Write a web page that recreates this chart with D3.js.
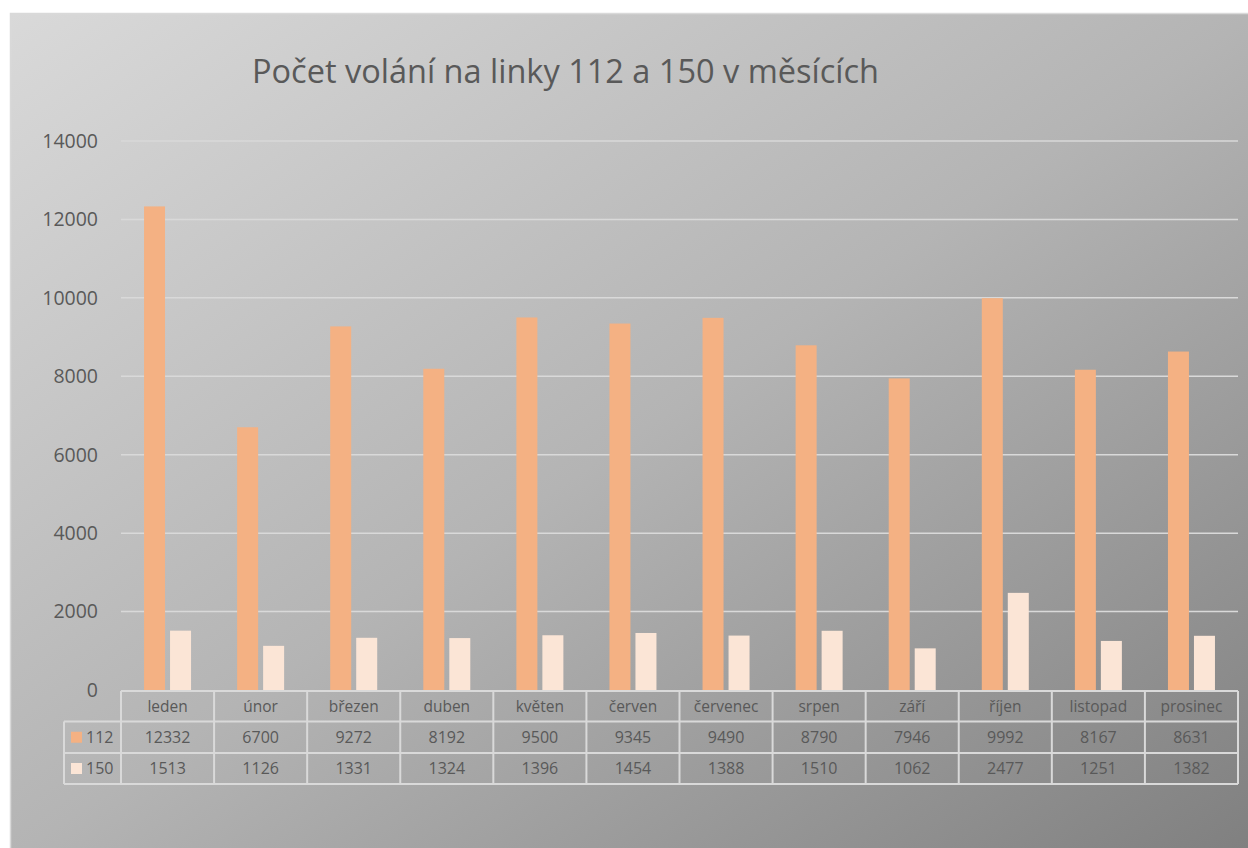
<!DOCTYPE html>
<html>
<head>
<meta charset="utf-8">
<script src="https://cdn.jsdelivr.net/npm/d3@7"></script>
<style>
  body { margin: 0; background: #fff; }
  text { font-family: "Open Sans", "Noto Sans", sans-serif; fill: #595959; }
</style>
</head>
<body>
<div id="chart"></div>
<script>
var months = ['leden', 'únor', 'březen', 'duben', 'květen', 'červen', 'červenec', 'srpen', 'září', 'říjen', 'listopad', 'prosinec'];
var seriesNames = ['112', '150'];
var calls112 = [12332, 6700, 9272, 8192, 9500, 9345, 9490, 8790, 7946, 9992, 8167, 8631];
var calls150 = [1513, 1126, 1331, 1324, 1396, 1454, 1388, 1510, 1062, 2477, 1251, 1382];
var yTicks = [0, 2000, 4000, 6000, 8000, 10000, 12000, 14000];
var colors = ['#F4B183', '#FBE5D6'];
var title = 'Počet volání na linky 112 a 150 v měsících';

var width = 1248,
    height = 848;

var svg = d3.select('#chart').append('svg')
    .attr('width', width)
    .attr('height', height);

// background gradient
var defs = svg.append('defs');
var grad = defs.append('linearGradient')
    .attr('id', 'bg')
    .attr('x1', 0).attr('y1', 0)
    .attr('x2', 1).attr('y2', 1);
grad.append('stop').attr('offset', '0%').attr('stop-color', '#d9d9d9');
grad.append('stop').attr('offset', '50%').attr('stop-color', '#b4b4b4');
grad.append('stop').attr('offset', '100%').attr('stop-color', '#7f7f7f');

svg.append('rect')
    .attr('x', 10.5)
    .attr('y', 13.5)
    .attr('width', 1245)
    .attr('height', 845)
    .attr('fill', 'url(#bg)')
    .attr('stroke', '#d9d9d9')
    .attr('stroke-width', 1.5);

svg.append('text')
    .attr('x', 252)
    .attr('y', 83)
    .style('font-size', '32.5px')
    .text(title);

var plotLeft = 121, plotRight = 1238, plotTop = 141, plotBottom = 690;

var y = d3.scaleLinear().domain([0, 14000]).range([plotBottom, plotTop]);
var x = d3.scaleBand().domain(months).range([plotLeft, plotRight]);
var bw = x.bandwidth();
var x1 = d3.scaleBand().domain(seriesNames)
    .range([bw / 2 - 23.5, bw / 2 + 23.5])
    .paddingInner(5 / 26);

// gridlines
svg.append('g').selectAll('line')
    .data(yTicks.filter(function(d) { return d > 0; }))
    .enter().append('line')
    .attr('x1', plotLeft).attr('x2', plotRight)
    .attr('y1', function(d) { return y(d); })
    .attr('y2', function(d) { return y(d); })
    .attr('stroke', '#d9d9d9')
    .attr('stroke-width', 1.5);

// y labels
svg.append('g').selectAll('text')
    .data(yTicks)
    .enter().append('text')
    .attr('x', 98)
    .attr('y', function(d) { return y(d); })
    .attr('dy', '0.35em')
    .attr('text-anchor', 'end')
    .style('font-size', '19.5px')
    .text(function(d) { return d; });

// bars
var series = [calls112, calls150];
series.forEach(function(vals, si) {
    svg.append('g').selectAll('rect')
        .data(vals)
        .enter().append('rect')
        .attr('x', function(d, i) { return x(months[i]) + x1(seriesNames[si]); })
        .attr('width', x1.bandwidth())
        .attr('y', function(d) { return y(d); })
        .attr('height', function(d) { return plotBottom - y(d); })
        .attr('fill', colors[si]);
});

// data table
var rowY = [691, 721.5, 753, 784];
var legLeft = 64;
var table = svg.append('g')
    .attr('stroke', '#d9d9d9')
    .attr('stroke-width', 2);

table.append('line').attr('x1', plotLeft).attr('x2', plotRight).attr('y1', rowY[0]).attr('y2', rowY[0]);
for (var r = 1; r < rowY.length; r++) {
    table.append('line').attr('x1', legLeft).attr('x2', plotRight).attr('y1', rowY[r]).attr('y2', rowY[r]);
}
table.append('line').attr('x1', legLeft).attr('x2', legLeft).attr('y1', rowY[1]).attr('y2', rowY[3]);
months.forEach(function(m) {
    table.append('line').attr('x1', x(m)).attr('x2', x(m)).attr('y1', rowY[0]).attr('y2', rowY[3]);
});
table.append('line').attr('x1', plotRight).attr('x2', plotRight).attr('y1', rowY[0]).attr('y2', rowY[3]);

svg.append('g').selectAll('text')
    .data(months)
    .enter().append('text')
    .attr('x', function(d) { return x(d) + bw / 2; })
    .attr('y', (rowY[0] + rowY[1]) / 2)
    .attr('dy', '0.35em')
    .attr('text-anchor', 'middle')
    .style('font-size', '15.5px')
    .text(function(d) { return d; });

series.forEach(function(vals, si) {
    var cy = (rowY[si + 1] + rowY[si + 2]) / 2;
    svg.append('rect')
        .attr('x', 71)
        .attr('y', cy - 5.5)
        .attr('width', 11)
        .attr('height', 11)
        .attr('fill', colors[si]);
    svg.append('text')
        .attr('x', 86)
        .attr('y', cy)
        .attr('dy', '0.35em')
        .style('font-size', '16px')
        .text(seriesNames[si]);
    svg.append('g').selectAll('text')
        .data(vals)
        .enter().append('text')
        .attr('x', function(d, i) { return x(months[i]) + bw / 2; })
        .attr('y', cy)
        .attr('dy', '0.35em')
        .attr('text-anchor', 'middle')
        .style('font-size', '16px')
        .text(function(d) { return d; });
});
</script>
</body>
</html>
